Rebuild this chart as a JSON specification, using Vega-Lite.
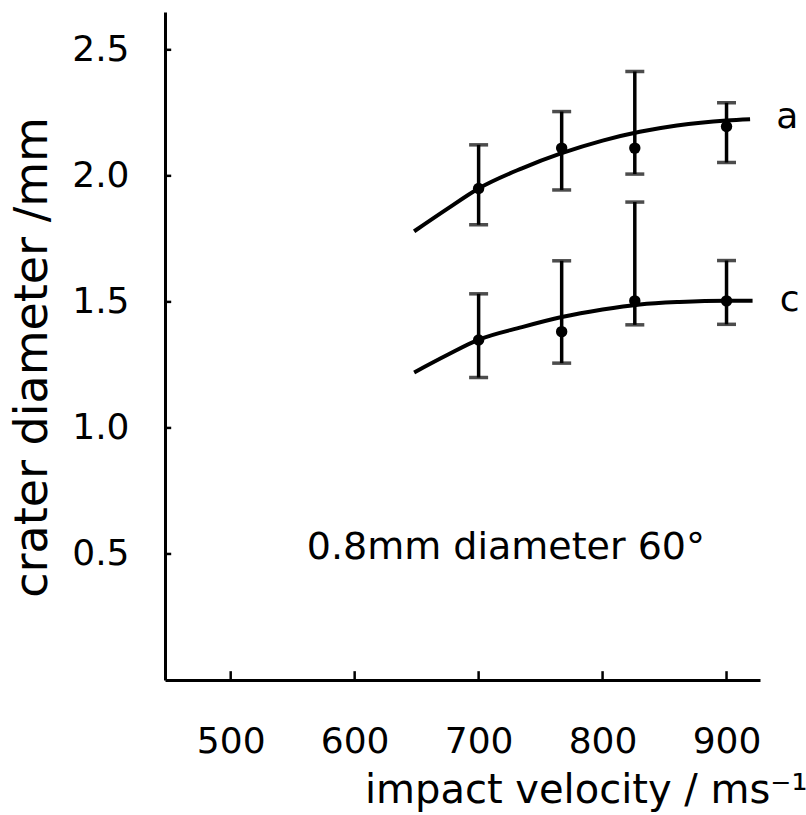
{
  "$schema": "https://vega.github.io/schema/vega-lite/v6.json",
  "autosize": {"type": "none"},
  "width": 595,
  "height": 668,
  "padding": {"left": 165, "top": 12, "right": 46, "bottom": 135},
  "background": "white",
  "config": {
    "view": {"stroke": null},
    "font": "DejaVu Sans",
    "axis": {"grid": false, "ticks": false, "domainColor": "black", "domainWidth": 3, "labelColor": "black", "titleColor": "black", "labelFont": "DejaVu Sans", "titleFont": "DejaVu Sans", "titleFontWeight": "normal"}
  },
  "datasets": {
    "pts": [
      {"curve": "a", "v": 700, "d": 1.95, "lo": 1.806, "hi": 2.123},
      {"curve": "a", "v": 767, "d": 2.11, "lo": 1.944, "hi": 2.255},
      {"curve": "a", "v": 826, "d": 2.11, "lo": 2.007, "hi": 2.414},
      {"curve": "a", "v": 900, "d": 2.196, "lo": 2.053, "hi": 2.29},
      {"curve": "c", "v": 700, "d": 1.349, "lo": 1.2, "hi": 1.532},
      {"curve": "c", "v": 767, "d": 1.382, "lo": 1.257, "hi": 1.663},
      {"curve": "c", "v": 826, "d": 1.504, "lo": 1.409, "hi": 1.896},
      {"curve": "c", "v": 900, "d": 1.504, "lo": 1.411, "hi": 1.664}
    ],
    "fit": [
      {"curve": "a", "v": 648, "d": 1.78},
      {"curve": "a", "v": 675, "d": 1.87},
      {"curve": "a", "v": 700, "d": 1.95},
      {"curve": "a", "v": 735, "d": 2.03},
      {"curve": "a", "v": 767, "d": 2.09},
      {"curve": "a", "v": 800, "d": 2.14},
      {"curve": "a", "v": 830, "d": 2.175},
      {"curve": "a", "v": 860, "d": 2.2},
      {"curve": "a", "v": 900, "d": 2.22},
      {"curve": "a", "v": 919, "d": 2.225},
      {"curve": "c", "v": 648, "d": 1.22},
      {"curve": "c", "v": 675, "d": 1.29},
      {"curve": "c", "v": 700, "d": 1.35},
      {"curve": "c", "v": 735, "d": 1.4},
      {"curve": "c", "v": 767, "d": 1.44},
      {"curve": "c", "v": 800, "d": 1.47},
      {"curve": "c", "v": 830, "d": 1.49},
      {"curve": "c", "v": 862, "d": 1.5},
      {"curve": "c", "v": 900, "d": 1.505},
      {"curve": "c", "v": 921, "d": 1.505}
    ],
    "xticks": [
      {"v": 500, "d0": 0, "d1": 0.035},
      {"v": 600, "d0": 0, "d1": 0.035},
      {"v": 700, "d0": 0, "d1": 0.035},
      {"v": 800, "d0": 0, "d1": 0.035},
      {"v": 900, "d0": 0, "d1": 0.035}
    ],
    "yticks": [
      {"d": 0.5, "v0": 447, "v1": 452},
      {"d": 1.0, "v0": 447, "v1": 452},
      {"d": 1.5, "v0": 447, "v1": 452},
      {"d": 2.0, "v0": 447, "v1": 452},
      {"d": 2.5, "v0": 447, "v1": 452}
    ],
    "labels": [
      {"v": 949, "d": 2.234, "t": "a"},
      {"v": 951, "d": 1.508, "t": "c"}
    ],
    "note": [
      {"v": 722, "d": 0.524, "t": "0.8mm diameter 60°"}
    ]
  },
  "layer": [
    {
      "data": {"name": "fit"},
      "mark": {"type": "line", "color": "black", "strokeWidth": 4, "interpolate": "monotone"},
      "encoding": {
        "x": {"field": "v", "type": "quantitative", "scale": {"domain": [447, 927], "nice": false, "zero": false},
          "axis": {"values": [500, 600, 700, 800, 900], "labelPadding": 44, "labelFontSize": 36,
            "title": "impact velocity / ms⁻¹", "titleFontSize": 40, "titleAnchor": null, "titleAlign": "right", "titleX": 642, "titleY": 90, "titleBaseline": "top"}},
        "y": {"field": "d", "type": "quantitative", "scale": {"domain": [0, 2.65], "nice": false},
          "axis": {"values": [0.5, 1, 1.5, 2, 2.5], "format": ".1f", "labelPadding": 36, "labelFontSize": 36,
            "title": "crater diameter /mm", "titleFontSize": 46, "titleAnchor": null, "titleAngle": -90, "titleAlign": "center", "titleBaseline": "middle", "titleX": -133, "titleY": 345}},
        "detail": {"field": "curve"}
      }
    },
    {
      "data": {"name": "xticks"},
      "mark": {"type": "rule", "color": "black", "strokeWidth": 2.5},
      "encoding": {
        "x": {"field": "v", "type": "quantitative"},
        "y": {"field": "d0", "type": "quantitative"},
        "y2": {"field": "d1"}
      }
    },
    {
      "data": {"name": "yticks"},
      "mark": {"type": "rule", "color": "black", "strokeWidth": 2.5},
      "encoding": {
        "y": {"field": "d", "type": "quantitative"},
        "x": {"field": "v0", "type": "quantitative"},
        "x2": {"field": "v1"}
      }
    },
    {
      "data": {"name": "pts"},
      "mark": {"type": "rule", "color": "black", "strokeWidth": 3.5},
      "encoding": {
        "x": {"field": "v", "type": "quantitative"},
        "y": {"field": "lo", "type": "quantitative"},
        "y2": {"field": "hi"}
      }
    },
    {
      "data": {"name": "pts"},
      "mark": {"type": "tick", "color": "black", "orient": "horizontal", "size": 19, "thickness": 3.5},
      "encoding": {
        "x": {"field": "v", "type": "quantitative"},
        "y": {"field": "lo", "type": "quantitative"}
      }
    },
    {
      "data": {"name": "pts"},
      "mark": {"type": "tick", "color": "black", "orient": "horizontal", "size": 19, "thickness": 3.5},
      "encoding": {
        "x": {"field": "v", "type": "quantitative"},
        "y": {"field": "hi", "type": "quantitative"}
      }
    },
    {
      "data": {"name": "pts"},
      "mark": {"type": "point", "filled": true, "color": "black", "opacity": 1, "size": 130},
      "encoding": {
        "x": {"field": "v", "type": "quantitative"},
        "y": {"field": "d", "type": "quantitative"}
      }
    },
    {
      "data": {"name": "labels"},
      "mark": {"type": "text", "color": "black", "fontSize": 36, "align": "center", "baseline": "middle"},
      "encoding": {
        "x": {"field": "v", "type": "quantitative"},
        "y": {"field": "d", "type": "quantitative"},
        "text": {"field": "t"}
      }
    },
    {
      "data": {"name": "note"},
      "mark": {"type": "text", "color": "black", "fontSize": 38, "align": "center", "baseline": "middle"},
      "encoding": {
        "x": {"field": "v", "type": "quantitative"},
        "y": {"field": "d", "type": "quantitative"},
        "text": {"field": "t"}
      }
    }
  ]
}
